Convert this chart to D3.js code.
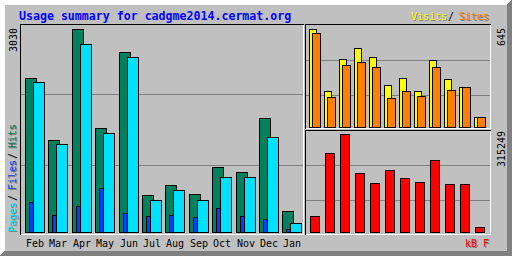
<!DOCTYPE html>
<html>
<head>
<meta charset="utf-8">
<script src="https://cdn.jsdelivr.net/npm/d3@7"></script>
<style>
  body { margin: 0; background: #fff; }
  svg { display: block; }
  text { font-family: "DejaVu Sans Mono", monospace; }
</style>
</head>
<body>
<div class="usage"></div>
<script>
// monthly values
const months = ["Feb", "Mar", "Apr", "May", "Jun", "Jul", "Aug", "Sep", "Oct", "Nov", "Dec", "Jan"];
const hits = [2299, 1373, 3030, 1553, 2687, 552, 702, 567, 970, 896, 1702, 313];
const pages = [2244, 1314, 2811, 1478, 2617, 478, 627, 478, 821, 821, 1423, 134];
const files = [452, 254, 388, 657, 288, 239, 254, 224, 358, 239, 194, 45];
const visits = [645, 239, 448, 520, 461, 276, 323, 239, 441, 316, 263, 66];
const sites = [619, 197, 408, 428, 395, 191, 237, 204, 395, 244, 263, 66];
const kbytes = [51469, 254129, 315249, 189796, 157625, 199443, 173708, 160841, 231611, 154408, 154408, 16084];
const gridFractions = [0.33, 0.68];

const width = 512,
    height = 256;
const grey = "#c0c0c0", dkgrey = "#808080";

const svg = d3.select(".usage").append("svg")
    .attr("width", width)
    .attr("height", height);

svg.append("rect").attr("width", width).attr("height", height).attr("fill", grey);

// 3d border (white top/left, dark grey bottom/right)
for (let i = 0; i < 5; i++) {
    svg.append("line").attr("x1", i).attr("y1", i + 0.5).attr("x2", width - i).attr("y2", i + 0.5).attr("stroke", "#fff");
    svg.append("line").attr("x1", i + 0.5).attr("y1", i).attr("x2", i + 0.5).attr("y2", height - i).attr("stroke", "#fff");
    svg.append("line").attr("x1", i).attr("y1", height - i - 0.5).attr("x2", width - i).attr("y2", height - i - 0.5).attr("stroke", dkgrey);
    svg.append("line").attr("x1", width - i - 0.5).attr("y1", i).attr("x2", width - i - 0.5).attr("y2", height - i).attr("stroke", dkgrey);
}

// sunken boxes: black top/left, white bottom/right
function box(x1, y1, x2, y2) {
    const g = svg.append("g");
    g.append("line").attr("x1", x1).attr("y1", y1 + 0.5).attr("x2", x2 + 1).attr("y2", y1 + 0.5).attr("stroke", "#000");
    g.append("line").attr("x1", x1 + 0.5).attr("y1", y1).attr("x2", x1 + 0.5).attr("y2", y2 + 1).attr("stroke", "#000");
    g.append("line").attr("x1", x1 + 1).attr("y1", y2 + 0.5).attr("x2", x2 + 1).attr("y2", y2 + 0.5).attr("stroke", "#fff");
    g.append("line").attr("x1", x2 + 0.5).attr("y1", y1 + 1).attr("x2", x2 + 0.5).attr("y2", y2 + 1).attr("stroke", "#fff");
}
box(20, 24, 303, 234);
box(305, 24, 490, 128);
box(305, 130, 490, 234);

const xMain = d3.scaleBand().domain(months).range([25, 25 + 23.4 * 12]);
const yMain = d3.scaleLinear().domain([0, d3.max(hits)]).range([232, 29]);
const xSide = d3.scaleBand().domain(months).range([309, 309 + 15 * 12]);
const yVisits = d3.scaleLinear().domain([0, d3.max(visits)]).range([127, 29]);
const yKb = d3.scaleLinear().domain([0, d3.max(kbytes)]).range([232, 134]);

function grid(y, x1, x2) {
    gridFractions.forEach(f => {
        const gy = Math.round(y(f * y.domain()[1])) + 0.5;
        svg.append("line").attr("x1", x1).attr("x2", x2).attr("y1", gy).attr("y2", gy).attr("stroke", dkgrey);
    });
}
grid(yMain, 21, 303);
grid(yVisits, 306, 490);
grid(yKb, 306, 490);

function bars(values, x, y, dx, w, color) {
    svg.append("g").selectAll("rect")
        .data(values.map((v, i) => ({ m: months[i], v: v })).filter(d => d.v > 0))
        .join("rect")
        .attr("x", d => Math.round(x(d.m)) + dx + 0.5)
        .attr("y", d => Math.round(y(d.v)) + 0.5)
        .attr("width", w)
        .attr("height", d => y(0) - Math.round(y(d.v)))
        .attr("fill", color)
        .attr("stroke", "#000");
}
bars(hits, xMain, yMain, 0, 11, "#00805c");
bars(pages, xMain, yMain, 8, 11, "#00e0ff");
bars(files, xMain, yMain, 4, 4, "#0040ff");
bars(visits, xSide, yVisits, 0, 7, "#ffff00");
bars(sites, xSide, yVisits, 3, 8, "#ff8000");
bars(kbytes, xSide, yKb, 1, 9, "#ff0000");

// texts
svg.append("text")
    .attr("x", 19).attr("y", 20)
    .style("font-size", "11.6px").style("font-weight", "bold")
    .attr("fill", "#0000ff")
    .text("Usage summary for cadgme2014.cermat.org");

svg.append("g").selectAll("text")
    .data(months)
    .join("text")
    .attr("x", d => Math.round(xMain(d)) + 1)
    .attr("y", 247)
    .style("font-size", "10px")
    .attr("fill", "#000")
    .text(d => d);

function label(str, x, y, color, up, shadow) {
    const t = up ? (dx, dy) => `translate(${x + dx},${y + dy}) rotate(-90)` : (dx, dy) => `translate(${x + dx},${y + dy})`;
    if (shadow) {
        svg.append("text").attr("transform", t(1, 1)).style("font-size", "10px").attr("fill", dkgrey).text(str);
    }
    svg.append("text").attr("transform", t(0, 0)).style("font-size", "10px").attr("fill", color).text(str);
}
label("Visits", 411, 20, "#ffff00", false, true);
label("/", 448, 20, "#000", false, false);
label("Sites", 459, 20, "#ff8000", false, true);
label("kB F", 465, 247, "#ff0000", false, true);

label("Pages", 16, 232, "#00e0ff", true, true);
label("/", 16, 201, "#000", true, false);
label("Files", 16, 190, "#0040ff", true, true);
label("/", 16, 159, "#000", true, false);
label("Hits", 16, 148, "#00805c", true, true);

label(d3.max(hits), 17, 52, "#000", true, false);
label(d3.max(visits), 505, 46, "#000", true, false);
label(d3.max(kbytes), 505, 167, "#000", true, false);
</script>
</body>
</html>
